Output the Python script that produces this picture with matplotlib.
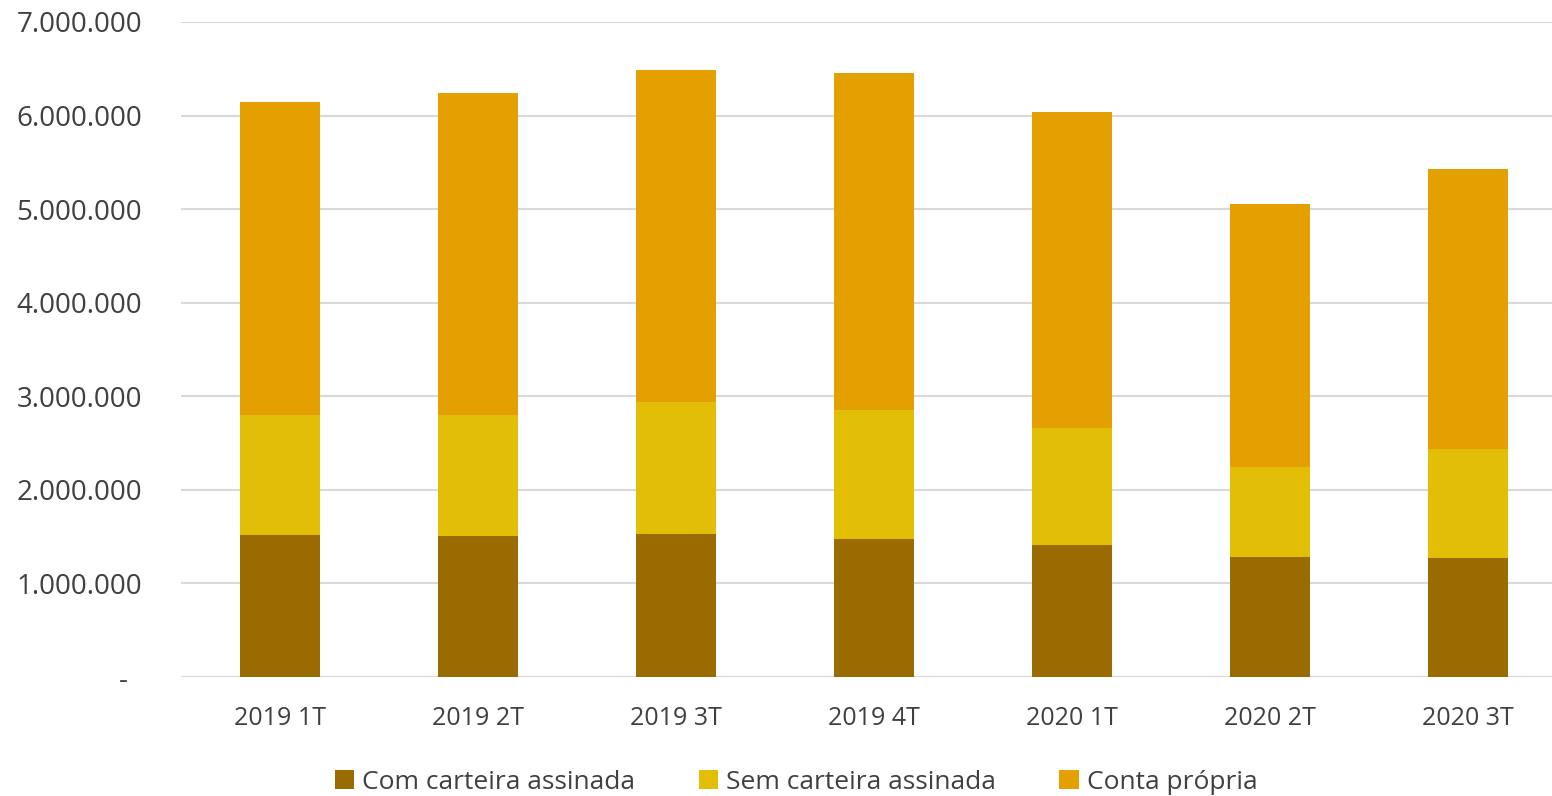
import matplotlib
matplotlib.use("Agg")
import matplotlib.pyplot as plt
from matplotlib.ticker import FuncFormatter

plt.rcParams['font.family'] = ['Open Sans', 'DejaVu Sans']

categories = ["2019 1T", "2019 2T", "2019 3T", "2019 4T", "2020 1T", "2020 2T", "2020 3T"]
com_carteira = [1515000, 1512000, 1526000, 1479000, 1415000, 1280000, 1270000]
sem_carteira = [1285000, 1290000, 1414000, 1376000, 1248000, 966000, 1168000]
conta_propria = [3345000, 3440000, 3550000, 3600000, 3375000, 2804000, 2995000]
series_names = ["Com carteira assinada", "Sem carteira assinada", "Conta própria"]
colors = ["#996B00", "#E2BE06", "#E4A000"]
yticks = [0, 1000000, 2000000, 3000000, 4000000, 5000000, 6000000, 7000000]

fig = plt.figure(figsize=(15.52, 7.96), dpi=100)
ax = fig.add_axes([181/1552, 1-677/796, (1552-181)/1552, (677-22)/796])

x = list(range(len(categories)))
bottom2 = [a for a in com_carteira]
bottom3 = [a + b for a, b in zip(com_carteira, sem_carteira)]
w = 0.4
ax.bar(x, com_carteira, w, color=colors[0], label=series_names[0], zorder=3)
ax.bar(x, sem_carteira, w, bottom=bottom2, color=colors[1], label=series_names[1], zorder=3)
ax.bar(x, conta_propria, w, bottom=bottom3, color=colors[2], label=series_names[2], zorder=3)

ax.set_ylim(0, 7000000)
ax.set_xlim(-0.5, -0.5 + (1552-181)/198)
ax.set_yticks(yticks)

def fmt(v, pos):
    if v == 0:
        return "-  "
    return f"{int(v):,}".replace(",", ".")
ax.yaxis.set_major_formatter(FuncFormatter(fmt))
ax.set_xticks(x)
ax.set_xticklabels(categories)
ax.tick_params(axis='both', length=0, colors='#404040')
ax.tick_params(axis='y', pad=28, labelsize=20)
ax.tick_params(axis='x', pad=21, labelsize=18)
ax.grid(axis='y', color='#D9D9D9', linewidth=1.5, zorder=0)
for s in ax.spines.values():
    s.set_visible(False)

leg = fig.legend(loc='lower center', bbox_to_anchor=(0.513, -0.028), ncol=3, frameon=False,
                 fontsize=19, handlelength=0.75, handleheight=0.75, handletextpad=0.3,
                 columnspacing=2.4, labelcolor='#404040')

fig.savefig("out.png", dpi=100)
